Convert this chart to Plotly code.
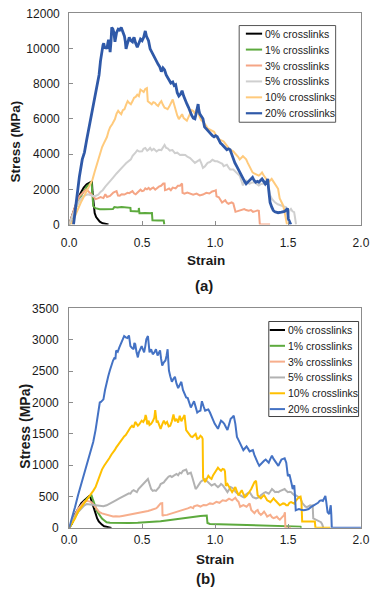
import plotly.graph_objects as go

# ---------------- dados (a) ----------------
a_x_0 = [0.0, 0.02, 0.04, 0.06, 0.08, 0.10, 0.12, 0.14, 0.156, 0.160, 0.167, 0.175, 0.185, 0.195, 0.21, 0.23, 0.25, 0.27]
a_y_0 = [0, 500, 1050, 1450, 1800, 2100, 2280, 2370, 2450, 1850, 1100, 650, 420, 300, 160, 70, 30, 0]

a_x_1 = [0.0, 0.03, 0.06, 0.09, 0.12, 0.154, 0.158, 0.165, 0.18, 0.21, 0.24, 0.27, 0.30, 0.31, 0.33, 0.36, 0.39,
         0.42, 0.422, 0.45, 0.476, 0.478, 0.482, 0.52, 0.565, 0.567, 0.571, 0.61, 0.648, 0.652]
a_y_1 = [0, 650, 1250, 1750, 2150, 2400, 1500, 1050, 930, 870, 860, 890, 880, 990, 970, 1000, 960,
         950, 770, 750, 740, 940, 640, 650, 640, 700, 240, 230, 230, 0]

a_x_3 = [0.0, 0.03, 0.05, 0.07, 0.094, 0.116, 0.13, 0.149, 0.165, 0.182, 0.2, 0.215, 0.235, 0.248, 0.26, 0.28,
         0.303, 0.325, 0.335, 0.347, 0.36, 0.379, 0.40, 0.412, 0.434, 0.446, 0.456, 0.47, 0.489, 0.50, 0.511,
         0.522, 0.533, 0.545, 0.555, 0.566, 0.577, 0.59, 0.60, 0.615, 0.63, 0.645, 0.654, 0.657, 0.67, 0.685,
         0.697, 0.71, 0.73, 0.745, 0.76, 0.774, 0.777, 0.79, 0.81, 0.83, 0.85, 0.873, 0.895, 0.917, 0.94, 0.961,
         0.98, 0.993, 1.005, 1.01, 1.026, 1.048, 1.06, 1.07, 1.08, 1.092, 1.114, 1.125, 1.14, 1.16, 1.18, 1.20,
         1.213, 1.23, 1.246, 1.26, 1.278, 1.29, 1.30, 1.307, 1.34, 1.377]
a_y_3 = [0, 800, 1250, 1600, 1820, 1980, 1900, 1720, 1550, 1440, 1500, 1560, 1500, 1720, 1560, 1620,
         1820, 1900, 1650, 1640, 1720, 1700, 1800, 1780, 1900, 1760, 1720, 1850, 1980, 1900, 1920,
         2050, 2000, 2080, 1980, 2050, 2100, 1980, 2050, 2150, 2200, 2330, 2330, 1950, 1980, 2050,
         1950, 2100, 2050, 2200, 2200, 2330, 1800, 1750, 1820, 1780, 1700, 1760, 1650, 1700, 1800, 1760,
         1880, 1900, 1950, 1600, 1550, 1250, 1300, 1380, 1250, 1180, 1260, 1200, 720, 760, 820, 880,
         820, 780, 820, 720, 760, 800, 780, 0, 0, 0]

a_x_5 = [0.0, 0.02, 0.04, 0.06, 0.08, 0.10, 0.127, 0.145, 0.16, 0.18, 0.2, 0.215, 0.23, 0.248, 0.265, 0.281,
         0.30, 0.325, 0.34, 0.357, 0.375, 0.39, 0.405, 0.423, 0.435, 0.445, 0.456, 0.467, 0.48, 0.5, 0.51,
         0.522, 0.535, 0.544, 0.555, 0.566, 0.58, 0.599, 0.615, 0.632, 0.645, 0.654, 0.665, 0.675, 0.69,
         0.708, 0.725, 0.741, 0.76, 0.774, 0.796, 0.81, 0.829, 0.845, 0.862, 0.88, 0.895, 0.905, 0.917,
         0.93, 0.949, 0.965, 0.982, 1.0, 1.015, 1.037, 1.05, 1.059, 1.07, 1.081, 1.092, 1.103, 1.125,
         1.147, 1.16, 1.169, 1.18, 1.191, 1.202, 1.213, 1.235, 1.25, 1.268, 1.285, 1.30, 1.315, 1.333,
         1.35, 1.361, 1.37, 1.377, 1.39, 1.41, 1.43, 1.454, 1.47, 1.487, 1.495, 1.50, 1.51, 1.52, 1.53,
         1.542, 1.548, 1.555]
a_y_5 = [0, 450, 850, 1200, 1450, 1620, 1720, 1680, 1620, 1620, 1700, 1850, 1950, 2150, 2300, 2450,
         2650, 2900, 3050, 3200, 3350, 3480, 3600, 3700, 3900, 3980, 4100, 4220, 4150, 4160, 4300,
         4350, 4200, 4250, 4350, 4220, 4300, 4150, 4250, 4230, 4450, 4520, 4350, 4330, 4200,
         4230, 4050, 4080, 3950, 3970, 3950, 3850, 3780, 3650, 3500, 3600, 3680, 3500, 3220,
         3300, 3500, 3550, 3680, 3600, 3590, 3500, 3450, 3310, 3350, 3400, 3250, 3130, 3130,
         2940, 2850, 2770, 2500, 2220, 2450, 2500, 2310, 2380, 2400, 2300, 2220, 2300, 2310,
         2380, 2500, 2000, 1660, 1450, 1260, 1150, 1070, 1000, 980, 700, 520, 800, 890, 750,
         700, 400, 0]

a_x_10 = [0.015, 0.04, 0.061, 0.08, 0.105, 0.13, 0.149, 0.16, 0.175, 0.193, 0.205, 0.215, 0.226, 0.237,
          0.248, 0.259, 0.27, 0.281, 0.295, 0.314, 0.325, 0.336, 0.347, 0.357, 0.368, 0.379, 0.39, 0.401,
          0.412, 0.423, 0.434, 0.445, 0.456, 0.467, 0.478, 0.489, 0.50, 0.511, 0.522, 0.533, 0.539, 0.55,
          0.566, 0.577, 0.588, 0.599, 0.610, 0.621, 0.632, 0.643, 0.654, 0.665, 0.675, 0.686, 0.697, 0.71,
          0.72, 0.730, 0.741, 0.752, 0.763, 0.774, 0.785, 0.796, 0.807, 0.818, 0.829, 0.84, 0.851, 0.862,
          0.873, 0.884, 0.895, 0.906, 0.917, 0.928, 0.94, 0.949, 0.96, 0.971, 0.982, 0.993, 1.004, 1.015,
          1.026, 1.037, 1.048, 1.059, 1.07, 1.081, 1.092, 1.103, 1.114, 1.125, 1.136, 1.147, 1.158, 1.169,
          1.18, 1.191, 1.202, 1.213, 1.224, 1.235, 1.246, 1.257, 1.268, 1.279, 1.29, 1.300, 1.311, 1.322,
          1.333, 1.344, 1.355, 1.366, 1.377, 1.388, 1.399, 1.410, 1.421, 1.432, 1.443, 1.454, 1.465, 1.472,
          1.480, 1.485, 1.493]
a_y_10 = [0, 500, 890, 1250, 1650, 2100, 2400, 2550, 3000, 3490, 3900, 4230, 4400, 4600,
          4800, 4970, 5300, 5530, 5700, 5990, 6300, 6460, 6350, 6270, 6500, 6550, 6800, 7010,
          6900, 6830, 7000, 7200, 7250, 7380, 7300, 7660, 7600, 7530, 7700, 7750, 7010, 6950,
          6830, 6950, 6920, 6800, 6730, 6900, 7010, 6800, 6640, 6600, 6550, 6700, 6920, 7100,
          6800, 6460, 6200, 5990, 6100, 6270, 6050, 5950, 5900, 6100, 6300, 6500, 6450, 6300,
          6550, 6400, 6100, 5920, 5850, 5740, 5600, 5460, 5400, 5370, 5300, 5270, 5100, 4900,
          4850, 4810, 4780, 4720, 4600, 4440, 4350, 4250, 4200, 4160, 4050, 3970, 3850, 3700,
          3780, 3880, 3800, 3700, 3500, 3330, 3100, 2960, 2900, 2870, 2800, 2780, 2850, 2960,
          2800, 2680, 2550, 2400, 2500, 2590, 2450, 2310, 2150, 2030, 1480, 1300, 1110, 900,
          520, 300, 0]

a_x_20 = [0.03, 0.05, 0.07, 0.09, 0.105, 0.12, 0.14, 0.16, 0.171, 0.182, 0.193, 0.205, 0.215, 0.226, 0.232,
          0.237, 0.245, 0.252, 0.259, 0.265, 0.27, 0.276, 0.281, 0.287, 0.292, 0.30, 0.307, 0.314, 0.32,
          0.325, 0.336, 0.346, 0.357, 0.368, 0.379, 0.385, 0.39, 0.4, 0.412, 0.423, 0.434, 0.44, 0.445,
          0.456, 0.467, 0.478, 0.489, 0.50, 0.511, 0.517, 0.522, 0.53, 0.537, 0.544, 0.555, 0.566, 0.577,
          0.588, 0.599, 0.61, 0.621, 0.632, 0.643, 0.654, 0.665, 0.675, 0.686, 0.697, 0.71, 0.72, 0.730,
          0.741, 0.752, 0.763, 0.774, 0.785, 0.796, 0.807, 0.818, 0.829, 0.840, 0.851, 0.862, 0.873, 0.884,
          0.889, 0.895, 0.906, 0.917, 0.928, 0.938, 0.949, 0.96, 0.971, 0.982, 0.993, 1.004, 1.015, 1.026,
          1.037, 1.048, 1.059, 1.07, 1.081, 1.092, 1.103, 1.114, 1.125, 1.136, 1.147, 1.158, 1.169, 1.18,
          1.191, 1.202, 1.213, 1.224, 1.235, 1.246, 1.257, 1.268, 1.279, 1.29, 1.300, 1.311, 1.322, 1.333,
          1.344, 1.355, 1.361, 1.366, 1.372, 1.377, 1.388, 1.399, 1.41, 1.432, 1.455, 1.476, 1.49, 1.497,
          1.502, 1.51, 1.519]
a_y_20 = [0, 1400, 2700, 3700, 4100, 4800, 5700, 6500, 7010, 7500, 7940, 8500, 9300, 9980, 10200,
          10300, 10000, 10100, 9980, 10300, 10500, 10200, 9800, 10400, 11200, 11100, 10900, 10380, 10600,
          10900, 11100, 11050, 11200, 10950, 10700, 10400, 9980, 10300, 10640, 10450, 10380, 10550, 10640,
          10300, 10080, 10300, 10530, 10450, 10640, 10850, 11000, 10700, 10500, 10450, 9980, 9800, 9600,
          9400, 9240, 9100, 8960, 8690, 8900, 8780, 8500, 8320, 8200, 8040, 8100, 7900, 7950,
          7490, 7300, 7400, 7600, 7300, 7010, 6850, 6660, 6400, 6200, 6050, 6010, 6400, 6840,
          6500, 6290, 6150, 6010, 5550, 5450, 5370, 5250, 5180, 5050, 4990, 5050, 4990, 4800,
          4620, 4550, 4440, 4350, 4250, 4300, 4250, 4000, 3700, 3500, 3330, 3150, 2960, 2750,
          2590, 2450, 2310, 2400, 2500, 2600, 2680, 2500, 2400, 2450, 2400, 2500, 2590, 2450,
          2310, 2450, 2590, 2100, 1600, 1260, 1000, 800, 720, 670, 700, 740, 850, 920,
          330, 150, 0]

# ---------------- dados (b) ----------------
b_x_0 = [0.0, 0.017, 0.039, 0.061, 0.083, 0.105, 0.126, 0.137, 0.145, 0.159, 0.17, 0.181, 0.192, 0.203,
         0.215, 0.224, 0.24, 0.257, 0.29]
b_y_0 = [0, 60, 210, 310, 390, 440, 490, 505, 495, 390, 300, 207, 150, 104, 70, 52, 26, 16, 0]

b_x_1 = [0.0, 0.02, 0.04, 0.06, 0.08, 0.10, 0.12, 0.14, 0.153, 0.16, 0.17, 0.18, 0.192, 0.203, 0.214, 0.225,
         0.235, 0.246, 0.257, 0.28, 0.301, 0.35, 0.41, 0.47, 0.519, 0.57, 0.627, 0.68, 0.736, 0.79, 0.824,
         0.856, 0.90, 0.943, 0.946, 0.948, 0.965, 1.05, 1.117, 1.2, 1.336, 1.45, 1.51, 1.586, 1.59]
b_y_1 = [0, 70, 170, 260, 330, 400, 460, 500, 520, 470, 415, 340, 260, 220, 180, 150,
         130, 105, 88, 80, 78, 78, 78, 82, 88, 95, 104, 120, 140, 160, 166,
         180, 190, 197, 120, 78, 62, 57, 52, 46, 38, 32, 26, 20, 0]

b_x_3 = [0.0, 0.02, 0.039, 0.06, 0.083, 0.105, 0.126, 0.14, 0.148, 0.16, 0.170, 0.18, 0.192, 0.205, 0.225,
         0.24, 0.257, 0.28, 0.301, 0.32, 0.344, 0.365, 0.388, 0.41, 0.431, 0.45, 0.475, 0.5, 0.519, 0.54,
         0.562, 0.58, 0.595, 0.605, 0.617, 0.627, 0.638, 0.640, 0.645, 0.671, 0.69, 0.715, 0.736, 0.758,
         0.78, 0.8, 0.813, 0.834, 0.85, 0.856, 0.878, 0.90, 0.921, 0.94, 0.965, 0.985, 1.009, 1.03, 1.052,
         1.075, 1.096, 1.117, 1.139, 1.15, 1.161, 1.172, 1.194, 1.216, 1.237, 1.248, 1.259, 1.270, 1.281,
         1.292, 1.30, 1.314, 1.325, 1.336, 1.347, 1.357, 1.368, 1.379, 1.39, 1.401, 1.412, 1.423, 1.434,
         1.444, 1.455, 1.466, 1.473, 1.479, 1.482, 1.52]
b_y_3 = [0, 100, 207, 300, 363, 420, 430, 425, 415, 390, 360, 320, 285, 255, 230,
         220, 210, 195, 180, 185, 180, 190, 200, 210, 220, 225, 230, 245, 260, 270,
         285, 295, 310, 330, 360, 390, 395, 190, 200, 207, 220, 233, 245, 260,
         280, 300, 310, 330, 315, 345, 360, 340, 365, 360, 390, 380, 415, 400, 440,
         430, 467, 440, 480, 440, 415, 337, 363, 337, 390, 285, 260, 233, 270,
         285, 240, 207, 230, 260, 220, 180, 195, 207, 170, 155, 165, 180, 150,
         130, 160, 180, 200, 250, 0, 0]

b_x_5 = [0.0, 0.02, 0.039, 0.06, 0.083, 0.105, 0.12, 0.137, 0.15, 0.170, 0.19, 0.214, 0.235, 0.257, 0.28,
         0.301, 0.32, 0.344, 0.365, 0.388, 0.40, 0.41, 0.420, 0.431, 0.442, 0.453, 0.464, 0.475, 0.486,
         0.497, 0.508, 0.519, 0.53, 0.540, 0.551, 0.562, 0.573, 0.584, 0.595, 0.606, 0.617, 0.627, 0.638,
         0.649, 0.660, 0.671, 0.682, 0.693, 0.704, 0.715, 0.725, 0.736, 0.747, 0.758, 0.769, 0.780, 0.791,
         0.802, 0.813, 0.824, 0.834, 0.845, 0.856, 0.867, 0.878, 0.889, 0.9, 0.910, 0.921, 0.932, 0.943,
         0.954, 0.965, 0.976, 0.987, 0.998, 1.009, 1.020, 1.031, 1.041, 1.052, 1.063, 1.074, 1.085, 1.096,
         1.107, 1.117, 1.128, 1.139, 1.150, 1.161, 1.172, 1.183, 1.194, 1.205, 1.216, 1.227, 1.237, 1.248,
         1.259, 1.270, 1.281, 1.292, 1.303, 1.314, 1.325, 1.336, 1.347, 1.357, 1.368, 1.379, 1.390, 1.401,
         1.412, 1.423, 1.434, 1.444, 1.455, 1.466, 1.477, 1.488, 1.499, 1.51, 1.521, 1.532, 1.543, 1.553,
         1.564, 1.575, 1.586, 1.597, 1.608, 1.619, 1.630, 1.641, 1.652, 1.662, 1.669, 1.673, 1.684, 1.695,
         1.706, 1.717, 1.726, 1.734, 1.742]
b_y_5 = [0, 100, 180, 250, 310, 360, 380, 375, 365, 360, 350, 340, 345, 360, 385,
         415, 440, 470, 495, 520, 530, 550, 545, 585, 600, 580, 570, 620, 650,
         675, 700, 725, 760, 780, 700, 620, 590, 600, 590, 620, 650, 700, 710,
         725, 760, 800, 820, 830, 810, 830, 850, 860, 840, 880, 870, 910, 920,
         930, 860, 870, 880, 800, 725, 620, 650, 700, 730, 750, 760, 780, 750,
         725, 690, 675, 690, 700, 670, 650, 670, 700, 680, 650, 610, 570, 610,
         650, 640, 620, 580, 545, 530, 520, 505, 490, 520, 545, 560, 570, 530,
         490, 480, 470, 480, 490, 520, 545, 560, 570, 555, 545, 580, 620, 595,
         570, 575, 570, 585, 600, 610, 620, 590, 570, 575, 570, 545, 520, 520,
         500, 490, 470, 400, 360, 340, 330, 345, 360, 355, 360, 150, 140, 130,
         120, 110, 90, 60, 0]

b_x_10 = [0.0, 0.02, 0.04, 0.061, 0.083, 0.105, 0.126, 0.148, 0.165, 0.181, 0.192, 0.203, 0.214, 0.225, 0.24,
          0.257, 0.275, 0.290, 0.301, 0.312, 0.322, 0.333, 0.344, 0.355, 0.366, 0.377, 0.388, 0.399, 0.410,
          0.420, 0.431, 0.442, 0.453, 0.462, 0.471, 0.48, 0.497, 0.508, 0.519, 0.524, 0.529, 0.535, 0.545,
          0.551, 0.562, 0.573, 0.584, 0.590, 0.595, 0.600, 0.606, 0.617, 0.627, 0.638, 0.649, 0.660, 0.671,
          0.682, 0.693, 0.704, 0.715, 0.725, 0.736, 0.747, 0.758, 0.769, 0.780, 0.791, 0.802, 0.813, 0.824,
          0.834, 0.845, 0.856, 0.867, 0.878, 0.889, 0.900, 0.910, 0.915, 0.918, 0.932, 0.943, 0.954, 0.965,
          0.976, 0.987, 0.998, 1.009, 1.020, 1.031, 1.041, 1.052, 1.063, 1.068, 1.074, 1.085, 1.096, 1.107,
          1.117, 1.128, 1.139, 1.150, 1.161, 1.172, 1.183, 1.194, 1.205, 1.216, 1.227, 1.237, 1.248, 1.259,
          1.270, 1.281, 1.286, 1.292, 1.303, 1.314, 1.325, 1.336, 1.347, 1.357, 1.368, 1.379, 1.390, 1.401,
          1.412, 1.423, 1.434, 1.444, 1.455, 1.466, 1.477, 1.488, 1.499, 1.510, 1.521, 1.532, 1.543, 1.553,
          1.564, 1.575, 1.586, 1.592, 1.597, 1.63, 1.66, 1.684, 1.688, 1.79]
b_y_10 = [0, 70, 150, 260, 330, 390, 450, 520, 590, 650, 720, 800, 870, 930, 990,
          1040, 1110, 1170, 1200, 1240, 1280, 1320, 1360, 1400, 1420, 1460, 1480, 1530, 1580,
          1600, 1630, 1600, 1690, 1660, 1630, 1650, 1710, 1690, 1740, 1800, 1760, 1650, 1710,
          1640, 1660, 1700, 1760, 1880, 1780, 1680, 1710, 1620, 1580, 1650, 1710, 1660, 1690,
          1620, 1630, 1700, 1810, 1700, 1740, 1680, 1790, 1700, 1740, 1800, 1560, 1520, 1480,
          1460, 1450, 1470, 1500, 1420, 1430, 1470, 1450, 1420, 800, 730, 780, 830, 800,
          780, 840, 880, 920, 960, 930, 910, 940, 930, 900, 670, 700, 650, 600,
          570, 610, 650, 580, 520, 560, 600, 540, 490, 510, 540, 580, 620, 680,
          730, 750, 640, 520, 490, 470, 500, 520, 480, 440, 425, 410, 440, 470,
          440, 410, 390, 360, 375, 390, 385, 360, 360, 400, 410, 395, 385, 430,
          470, 490, 500, 420, 100, 100, 100, 100, 0, 0]

b_x_20 = [0.0, 0.02, 0.04, 0.061, 0.083, 0.105, 0.126, 0.148, 0.165, 0.181, 0.192, 0.203, 0.210, 0.218, 0.226,
          0.235, 0.246, 0.257, 0.268, 0.279, 0.290, 0.301, 0.312, 0.317, 0.322, 0.333, 0.344, 0.355, 0.366,
          0.377, 0.388, 0.399, 0.410, 0.415, 0.420, 0.431, 0.442, 0.447, 0.453, 0.462, 0.471, 0.478, 0.486,
          0.497, 0.505, 0.514, 0.522, 0.529, 0.540, 0.546, 0.551, 0.562, 0.573, 0.584, 0.595, 0.606, 0.615,
          0.623, 0.630, 0.638, 0.649, 0.660, 0.668, 0.675, 0.680, 0.684, 0.693, 0.704, 0.715, 0.725, 0.736,
          0.747, 0.758, 0.769, 0.780, 0.791, 0.802, 0.813, 0.824, 0.834, 0.845, 0.856, 0.867, 0.878, 0.889,
          0.900, 0.905, 0.910, 0.921, 0.932, 0.943, 0.954, 0.965, 0.976, 0.987, 0.998, 1.009, 1.020, 1.031,
          1.041, 1.052, 1.063, 1.074, 1.085, 1.096, 1.107, 1.117, 1.128, 1.139, 1.150, 1.161, 1.172, 1.183,
          1.194, 1.205, 1.216, 1.227, 1.237, 1.248, 1.259, 1.270, 1.281, 1.292, 1.303, 1.314, 1.325, 1.336,
          1.347, 1.357, 1.368, 1.379, 1.390, 1.401, 1.412, 1.423, 1.434, 1.444, 1.455, 1.466, 1.477, 1.488,
          1.499, 1.510, 1.516, 1.525, 1.532, 1.543, 1.548, 1.553, 1.564, 1.575, 1.590, 1.608, 1.625, 1.641,
          1.657, 1.673, 1.684, 1.695, 1.706, 1.717, 1.728, 1.739, 1.748, 1.756, 1.762, 1.771, 1.782, 1.790,
          1.793, 1.797, 1.800, 1.90, 2.0]
b_y_20 = [0, 150, 330, 520, 700, 880, 1040, 1190, 1370, 1560, 1720, 1870, 2000, 2010, 2030,
          2050, 2200, 2330, 2420, 2510, 2600, 2670, 2720, 2690, 2830, 2810, 2880, 2950, 3010,
          3060, 3040, 3030, 3070, 2950, 2900, 2870, 2850, 2950, 2930, 2800, 2720, 2800, 2850,
          2900, 2850, 2800, 2900, 3010, 3060, 2950, 2800, 2850, 2770, 2800, 2850, 2750, 2800,
          2830, 2700, 2590, 2640, 2670, 2750, 2850, 2650, 2510, 2420, 2330, 2380, 2410, 2300,
          2230, 2280, 2330, 2200, 2130, 2080, 2070, 1990, 1920, 1970, 2020, 1930, 1840, 1860,
          1870, 1950, 2020, 1940, 1870, 1880, 1890, 1840, 1790, 1720, 1660, 1620, 1580, 1650,
          1710, 1690, 1660, 1610, 1560, 1650, 1740, 1760, 1790, 1660, 1450, 1400, 1350, 1300,
          1240, 1270, 1300, 1260, 1220, 1230, 1240, 1160, 1090, 1040, 990, 1020, 1040, 1070,
          1090, 1060, 1040, 1100, 1150, 1100, 1060, 1020, 990, 1040, 1090, 1100, 1110, 1040,
          825, 850, 800, 700, 620, 680, 500, 280, 290, 300, 290, 280, 290, 300,
          330, 350, 360, 380, 400, 430, 440, 430, 480, 510, 420, 250, 220, 300,
          360, 200, 0, 0, 0]

nomes = ['0% crosslinks', '1% crosslinks', '3% crosslinks', '5% crosslinks', '10% crosslinks', '20% crosslinks']
cores_a = ['#000000', '#5DAA3E', '#F5A585', '#CFCFCF', '#FFCA7C', '#2F59A8']
cores_b = ['#000000', '#5DAA3E', '#F7AE8C', '#B2B2B2', '#FFC000', '#4472C4']
larg_a = [2, 2, 2, 2, 2, 2.8]
larg_b = [2, 2, 2, 2, 2, 2]

series_a = [(a_x_0, a_y_0), (a_x_1, a_y_1), (a_x_3, a_y_3), (a_x_5, a_y_5), (a_x_10, a_y_10), (a_x_20, a_y_20)]
series_b = [(b_x_0, b_y_0), (b_x_1, b_y_1), (b_x_3, b_y_3), (b_x_5, b_y_5), (b_x_10, b_y_10), (b_x_20, b_y_20)]

W, H = 380, 600
FONTE = 'Arial, "Liberation Sans", sans-serif'
TXT = '#1a1a1a'
EIXO = '#8c8c8c'


def px(xp, yp):
    # pixel -> coordenadas do papel
    return xp / W, 1 - yp / H


fig = go.Figure()
for (x, y), nome, cor, lw in zip(series_a, nomes, cores_a, larg_a):
    fig.add_trace(go.Scatter(x=x, y=y, mode='lines', name=nome, showlegend=False,
                             line=dict(color=cor, width=lw), xaxis='x', yaxis='y'))
for (x, y), nome, cor, lw in zip(series_b, nomes, cores_b, larg_b):
    fig.add_trace(go.Scatter(x=x, y=y, mode='lines', name=nome, showlegend=False,
                             line=dict(color=cor, width=lw), xaxis='x2', yaxis='y2'))

eixo_comum = dict(showgrid=False, zeroline=False, showline=True, linecolor=EIXO, linewidth=1,
                  mirror=True, ticks='inside', ticklen=4, tickcolor=EIXO,
                  tickfont=dict(family=FONTE, size=12, color=TXT))

dom_x = [64 / W, 369.5 / W]
fig.update_layout(
    width=W, height=H,
    margin=dict(l=0, r=0, t=0, b=0),
    paper_bgcolor='white', plot_bgcolor='white',
    xaxis=dict(domain=dom_x, anchor='y', range=[0, 2], dtick=0.5, tickformat='.1f',
               ticklabelstandoff=7, **eixo_comum),
    yaxis=dict(domain=[1 - 222.7 / H, 1 - 6.5 / H], anchor='x', range=[0, 12000], dtick=2000,
               tickformat='d', ticklabelstandoff=6, **eixo_comum),
    xaxis2=dict(domain=dom_x, anchor='y2', range=[0, 2], dtick=0.5, tickformat='.1f',
                ticklabelstandoff=1, **eixo_comum),
    yaxis2=dict(domain=[1 - 533.3 / H, 1 - 308.7 / H], anchor='x2', range=[0, 3500], dtick=500,
                tickformat='d', ticklabelstandoff=7, **eixo_comum),
)

# títulos e rótulos (a)/(b)
textos = [
    ('<b>Stress (MPa)</b>', 8, 138, 13.5, -90),
    ('<b>Strain</b>', 207, 260, 13.5, 0),
    ('<b>(a)</b>', 205, 285.5, 15, 0),
    ('<b>Stress (MPa)</b>', 17.5, 429, 14, -90),
    ('<b>Strain</b>', 217, 565.5, 13.5, 0),
    ('<b>(b)</b>', 207, 585, 15, 0),
]
for t, xp, yp, tam, ang in textos:
    xx, yy = px(xp, yp)
    fig.add_annotation(text=t, x=xx, y=yy, xref='paper', yref='paper', showarrow=False,
                       xanchor='center', yanchor='middle', textangle=ang,
                       font=dict(family=FONTE, size=tam, color=TXT))

# legendas desenhadas à mão (caixa, amostra de linha, texto)
legendas = [
    # caixa x0, x1, y0, y1, primeira linha, passo, amostra x0, x1, texto x, cores, larguras, borda
    (242, 343, 19, 118, 27.3, 16.3, 249, 266, 267, cores_a, larg_a, '#555555'),
    (273, 367, 322, 419.3, 330.7, 16.2, 274, 290, 290.5, cores_b, larg_b, '#404040'),
]
for bx0, bx1, by0, by1, ry0, passo, lx0, lx1, tx, cores, largs, borda in legendas:
    x0, y1 = px(bx0, by0)
    x1, y0 = px(bx1, by1)
    fig.add_shape(type='rect', xref='paper', yref='paper', x0=x0, x1=x1, y0=y0, y1=y1,
                  line=dict(color=borda, width=1), fillcolor='white', layer='above')
    for i, (nome, cor, lw) in enumerate(zip(nomes, cores, largs)):
        yp = ry0 + i * passo
        a0, yy = px(lx0, yp)
        a1, _ = px(lx1, yp)
        fig.add_shape(type='line', xref='paper', yref='paper', x0=a0, x1=a1, y0=yy, y1=yy,
                      line=dict(color=cor, width=min(lw, 2.2)), layer='above')
        xt, _ = px(tx, yp)
        fig.add_annotation(text=nome, x=xt, y=yy, xref='paper', yref='paper', showarrow=False,
                           xanchor='left', yanchor='middle',
                           font=dict(family=FONTE, size=10.5, color=TXT))

# tira a margem padrão do <body> para a figura começar no canto da janela
fig.write_html('out.html', config={'displayModeBar': False},
               post_script="document.body.style.margin='0';")
